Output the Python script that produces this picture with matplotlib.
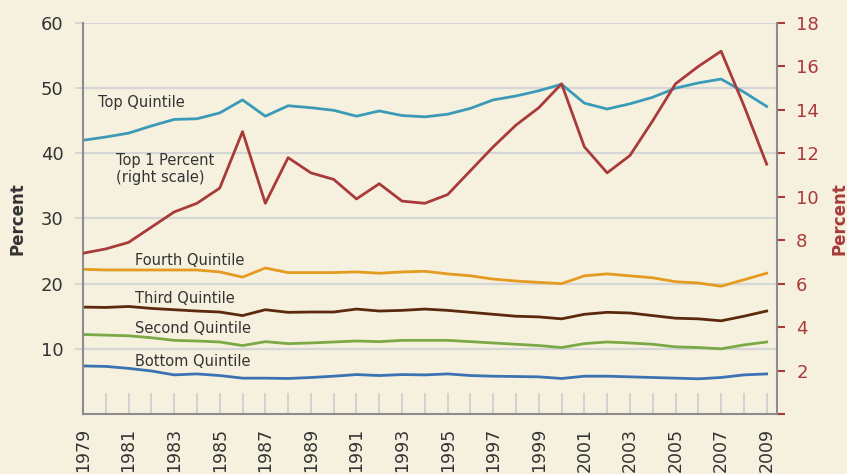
import numpy as np
import matplotlib.pyplot as plt

# Income shares by quintile and top 1 percent, 1979-2009

years = np.arange(1979, 2010)

top_quintile = [42.0, 42.5, 43.1, 44.2, 45.2, 45.3, 46.2, 48.2, 45.7, 47.3,
                47.0, 46.6, 45.7, 46.5, 45.8, 45.6, 46.0, 46.9, 48.2, 48.8,
                49.6, 50.6, 47.7, 46.8, 47.6, 48.6, 50.0, 50.8, 51.4, 49.4, 47.2]
top_1pct = [7.4, 7.6, 7.9, 8.6, 9.3, 9.7, 10.4, 13.0, 9.7, 11.8,
            11.1, 10.8, 9.9, 10.6, 9.8, 9.7, 10.1, 11.2, 12.3, 13.3,
            14.1, 15.2, 12.3, 11.1, 11.9, 13.5, 15.2, 16.0, 16.7, 14.2, 11.5]
fourth = [22.2, 22.1, 22.1, 22.1, 22.1, 22.1, 21.8, 21.0, 22.4, 21.7,
          21.7, 21.7, 21.8, 21.6, 21.8, 21.9, 21.5, 21.2, 20.7, 20.4,
          20.2, 20.0, 21.2, 21.5, 21.2, 20.9, 20.3, 20.1, 19.6, 20.6, 21.6]
third = [16.4, 16.35, 16.5, 16.2, 16.0, 15.8, 15.65, 15.1, 16.0, 15.6,
         15.65, 15.65, 16.1, 15.8, 15.9, 16.1, 15.9, 15.6, 15.3, 15.0,
         14.9, 14.6, 15.3, 15.6, 15.5, 15.1, 14.7, 14.6, 14.3, 15.0, 15.8]
second = [12.2, 12.1, 12.0, 11.7, 11.3, 11.2, 11.05, 10.5, 11.1, 10.8,
          10.9, 11.05, 11.2, 11.1, 11.3, 11.3, 11.3, 11.1, 10.9, 10.7,
          10.5, 10.2, 10.8, 11.05, 10.9, 10.7, 10.3, 10.2, 10.0, 10.6, 11.05]
bottom = [7.37, 7.3, 7.0, 6.6, 6.0, 6.15, 5.9, 5.5, 5.5, 5.45,
          5.6, 5.8, 6.05, 5.9, 6.05, 6.0, 6.15, 5.9, 5.8, 5.75,
          5.7, 5.45, 5.8, 5.8, 5.7, 5.6, 5.5, 5.4, 5.6, 6.0, 6.15]

bg = "#f6f1df"
red = "#a83a3a"
gray = "#8c8c8c"
textcol = "#333333"

fig = plt.figure(figsize=(8.47, 4.74), dpi=100, facecolor=bg)
ax = fig.add_axes([0.098, 0.1266, 0.819, 0.8249])
ax.set_facecolor(bg)
ax2 = ax.twinx()

ax.set_ylim(0, 60)
ax2.set_ylim(0, 18)
ax.set_xlim(1979, 2009.44)

ax.set_yticks(np.arange(10, 61, 10))
ax.yaxis.grid(True, color="#d6d6d6", linewidth=1.6)
ax.set_axisbelow(True)

ax.plot(years, top_quintile, color="#3b9ab8", lw=2)
ax.plot(years, fourth, color="#e49b1f", lw=2)
ax.plot(years, third, color="#5b2a0c", lw=2)
ax.plot(years, second, color="#7aa946", lw=2)
ax.plot(years, bottom, color="#3a72b2", lw=2)
ax2.plot(years, top_1pct, color=red, lw=2)

# x ticks every year inside, labels on odd years
ax.set_xticks(years)
ax.set_xticklabels([str(y) if y % 2 == 1 else "" for y in years], rotation=90,
                   fontsize=12.5, color=textcol)
ax.tick_params(axis="x", direction="in", length=15, width=1.3, color="#cfcfcf", pad=10)
ax.tick_params(axis="y", direction="out", length=6, width=1.5, color="#d6d6d6",
               labelsize=13, labelcolor=textcol, pad=8)
ax2.set_yticks(np.arange(0, 19, 2))
ax2.set_yticklabels([""] + [str(v) for v in range(2, 19, 2)])
ax2.tick_params(axis="y", direction="out", length=6, width=1.5, color=red,
                labelsize=13, labelcolor=red, pad=8)

for a in (ax, ax2):
    a.spines["top"].set_visible(False)
    a.spines["left"].set_color(gray)
    a.spines["right"].set_color(gray)
    a.spines["bottom"].set_color(gray)
    for s in a.spines.values():
        s.set_linewidth(1.5)
ax.spines["right"].set_visible(False)
ax2.spines["left"].set_visible(False)
ax2.spines["bottom"].set_visible(False)

ax.set_ylabel("Percent", fontsize=12, color=textcol, fontweight="bold", labelpad=10)
ax2.set_ylabel("Percent", fontsize=12, color=red, fontweight="bold", labelpad=8)

lab = dict(fontsize=10.5, color=textcol, va="center", ha="left")
ax.text(1979.65, 47.8, "Top Quintile", **lab)
ax.text(1980.45, 37.6, "Top 1 Percent\n(right scale)", linespacing=1.15, **lab)
ax.text(1981.3, 23.5, "Fourth Quintile", **lab)
ax.text(1981.3, 17.7, "Third Quintile", **lab)
ax.text(1981.3, 13.1, "Second Quintile", **lab)
ax.text(1981.3, 8.1, "Bottom Quintile", **lab)

plt.savefig("out.png", dpi=100, facecolor=bg)
